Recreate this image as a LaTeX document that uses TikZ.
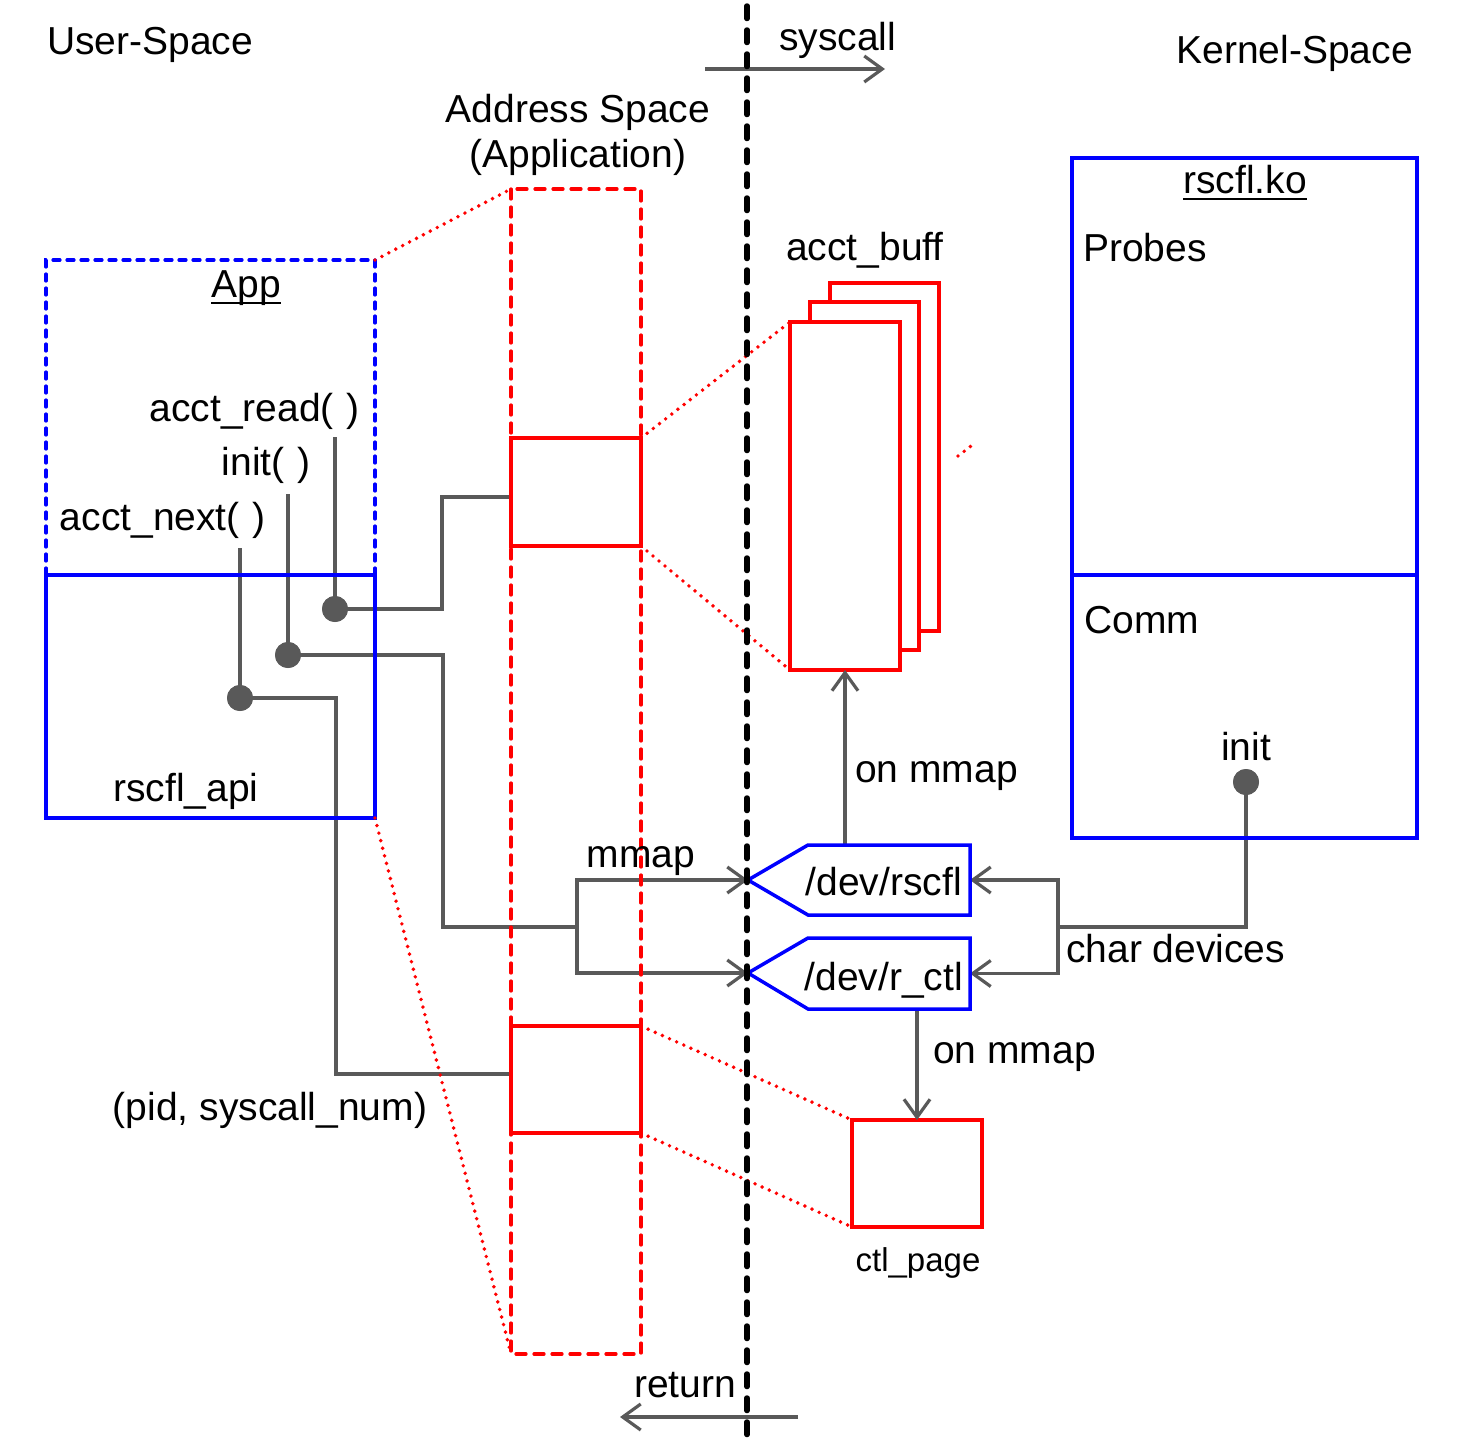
\documentclass[tikz,border=0pt]{standalone}
\usepackage{fontspec}
\setmainfont{Liberation Sans}
\usetikzlibrary{arrows.meta}
\definecolor{cgray}{HTML}{595959}
\definecolor{cred}{HTML}{FF0000}
\definecolor{cblue}{HTML}{0000FF}
\begin{document}
\begin{tikzpicture}[x=1pt,y=-1pt,
  lbl/.style={inner sep=0pt, font=\fontsize{39}{46}\selectfont},
  smalllbl/.style={inner sep=0pt, font=\fontsize{33}{40}\selectfont},
  plainrect/.style={inner sep=0pt, anchor=north west, outer sep=0pt},
  bluerect/.style={plainrect, draw=cblue, line width=3.5pt},
  redrect/.style={plainrect, draw=cred, line width=4.5pt, fill=white},
  gline/.style={cgray, line width=3.2pt},
  garrow/.style={gline, -{Straight Barb[length=18pt,width=26pt]}},
  reddot/.style={cred, line width=3.9pt, line cap=round, dash pattern=on 0pt off 7.8pt},
  gdot/.style={circle, fill=cgray, inner sep=0pt, minimum size=26pt},
  ulineb/.style={line width=2.8pt},
]
\useasboundingbox (0,0) rectangle (1460,1440);

% ---------- boxes (invisible anchors first) ----------
\node[plainrect, minimum width=329pt, minimum height=315pt] (app) at (46,260) {};
\node[plainrect, minimum width=329pt, minimum height=243pt] (api) at (46,575) {};
\node[plainrect, minimum width=130pt, minimum height=1165pt] (aspace) at (511,189) {};
\node[plainrect, minimum width=162pt, minimum height=70pt] (rscfl) at (808,845) {};
\node[plainrect, minimum width=162pt, minimum height=71pt] (rctl) at (808,938) {};
\coordinate (rscfltip) at (748,880);
\coordinate (rctltip) at (748,973);

% ---------- gray dots ----------
\node[gdot] (dread) at (335,609) {};
\node[gdot] (dinit) at (288,655) {};
\node[gdot] (dnext) at (240,698) {};
\node[gdot] (dkinit) at (1246,782) {};
\coordinate (readtop) at (335,437);
\coordinate (inittop) at (288,494);
\coordinate (nexttop) at (240,548);
\coordinate (mj) at (577,927);
\coordinate (kj) at (1058,927);

% ---------- red solid boxes ----------
\node[redrect, minimum width=130pt, minimum height=108pt] (rb1) at (511,438) {};
\node[redrect, minimum width=130pt, minimum height=107pt] (rb2) at (511,1026) {};
\node[redrect, minimum width=109pt, minimum height=348pt] (buf3) at (830,283) {};
\node[redrect, minimum width=109pt, minimum height=348pt] (buf2) at (810,302) {};
\node[redrect, minimum width=110pt, minimum height=348pt] (buf1) at (790,322) {};
\node[redrect, minimum width=130pt, minimum height=107pt] (ctl) at (852,1120) {};

% ---------- gray connectors ----------
\draw[gline] (dread.center) -- (readtop);
\draw[gline] (dinit.center) -- (inittop);
\draw[gline] (dnext.center) -- (nexttop);
\draw[gline] (dread.center) -- (442,609) -- (442,497) -- (rb1.west |- 0,497);
\draw[gline] (dnext.center) -- (336,698) -- (336,1074) -- (rb2.west |- 0,1074);
\draw[gline] (dinit.center) -- (443,655) -- (443,927) -- (mj);
\draw[garrow] (mj) |- (rscfltip);
\draw[garrow] (mj) |- (rctltip);
\draw[gline] (dkinit.center) |- (kj);
\draw[garrow] (kj) |- (rscfl.east);
\draw[garrow] (kj) |- (rctl.east);
\draw[garrow] (buf1.south |- rscfl.north) -- (buf1.south);
\draw[garrow] (ctl.north |- rctl.south) -- (ctl.north);
\coordinate (sysL) at (705,69);
\coordinate (sysR) at (885,69);
\coordinate (retR) at (798,1417);
\coordinate (retL) at (620,1417);
\draw[garrow] (sysL) -- (sysR);
\draw[garrow] (retR) -- (retL);

% redraw dots on top of lines
\node[gdot] at (dread) {};
\node[gdot] at (dinit) {};
\node[gdot] at (dnext) {};
\node[gdot] at (dkinit) {};

% ---------- blue boxes ----------
\draw[cblue, line width=3.2pt, dash pattern=on 7pt off 7pt, line cap=round]
  (app.south west) -- (app.north west) -- (app.north east) -- (app.south east);
\draw[cblue, line width=3.5pt] (api.north west) rectangle (api.south east);
\node[bluerect, minimum width=345pt, minimum height=680pt] (ko) at (1072,158) {};
\draw[cblue, line width=3.5pt] (ko.west |- 0,575) -- (ko.east |- 0,575);
\draw[cblue, line width=3.5pt, line join=miter]
  (rscfltip) -- (rscfl.north west) -- (rscfl.north east) -- (rscfl.south east) -- (rscfl.south west) -- cycle;
\draw[cblue, line width=3.5pt, line join=miter]
  (rctltip) -- (rctl.north west) -- (rctl.north east) -- (rctl.south east) -- (rctl.south west) -- cycle;

% ---------- address space (red dashed) ----------
\draw[cred, line width=3.2pt, dash pattern=on 10pt off 8pt, line cap=round]
  (aspace.north west) rectangle (aspace.south east);

% ---------- red dotted zoom lines ----------
\draw[reddot] (app.north east) -- (aspace.north west);
\draw[reddot] (api.south east) -- (aspace.south west);
\draw[reddot] (rb1.north east) -- (buf1.north west);
\draw[reddot] (rb1.south east) -- (buf1.south west);
\draw[reddot] (rb2.north east) -- (ctl.north west);
\draw[reddot] (rb2.south east) -- (ctl.south west);
\coordinate (fragA) at (958,456);
\coordinate (fragB) at (975,443);
\draw[reddot] (fragA) -- (fragB);

% ---------- black dashed boundary ----------
\coordinate (btop) at (747,6);
\coordinate (bbot) at (747,1440);
\draw[black, line width=5.5pt, dash pattern=on 12.5pt off 11.5pt, line cap=round] (btop) -- (bbot);

% ---------- labels ----------
\node[lbl, anchor=base west] (tuser) at (47,54) {User-Space};
\node[lbl, anchor=base east] (tkernel) at (1413,63) {Kernel-Space};
\node[lbl, anchor=base west] (tsys) at (779,50) {syscall};
\node[lbl, anchor=base] (tret) at (685,1397) {return};
\node[lbl, anchor=base] (tas1) at (578,122) {Address Space};
\node[lbl, anchor=base] (tas2) at (578,167) {(Application)};
\node[lbl, anchor=base] (tapp) at (246,297) {App};
\draw[ulineb] ([yshift=-6pt]tapp.base west) -- ([yshift=-6pt]tapp.base east);
\node[lbl, anchor=base east] (tread) at (360,421) {acct\_read(\,\,)};
\node[lbl, anchor=base east] (tinit) at (311,475) {init(\,\,)};
\node[lbl, anchor=base east] (tnext) at (266,530) {acct\_next(\,\,)};
\node[lbl, anchor=base] (tapi) at (186,801) {rscfl\_api};
\node[lbl, anchor=base] (tmmap) at (641,867) {mmap};
\node[lbl, anchor=base] (tpid) at (270,1120) {(pid, syscall\_num)};
\node[lbl, anchor=base] (tbuf) at (865,260) {acct\_buff};
\node[lbl, anchor=base west] (tonm1) at (855,782) {on mmap};
\node[lbl, anchor=base east] (tdevr) at (962,895) {/dev/rscfl};
\node[lbl, anchor=base east] (tdevc) at (963,990) {/dev/r\_ctl};
\node[lbl, anchor=base west] (tchar) at (1066,962) {char devices};
\node[lbl, anchor=base west] (tonm2) at (933,1063) {on mmap};
\node[smalllbl, anchor=base] (tctl) at (918,1271) {ctl\_page};
\node[lbl, anchor=base] (tko) at (1245,193) {rscfl.ko};
\draw[ulineb] ([yshift=-6pt]tko.base west) -- ([yshift=-6pt]tko.base east);
\node[lbl, anchor=base west] (tprobes) at (1083,261) {Probes};
\node[lbl, anchor=base west] (tcomm) at (1084,633) {Comm};
\node[lbl, anchor=base] (tkinit) at (1246,760) {init};
\end{tikzpicture}
\end{document}
